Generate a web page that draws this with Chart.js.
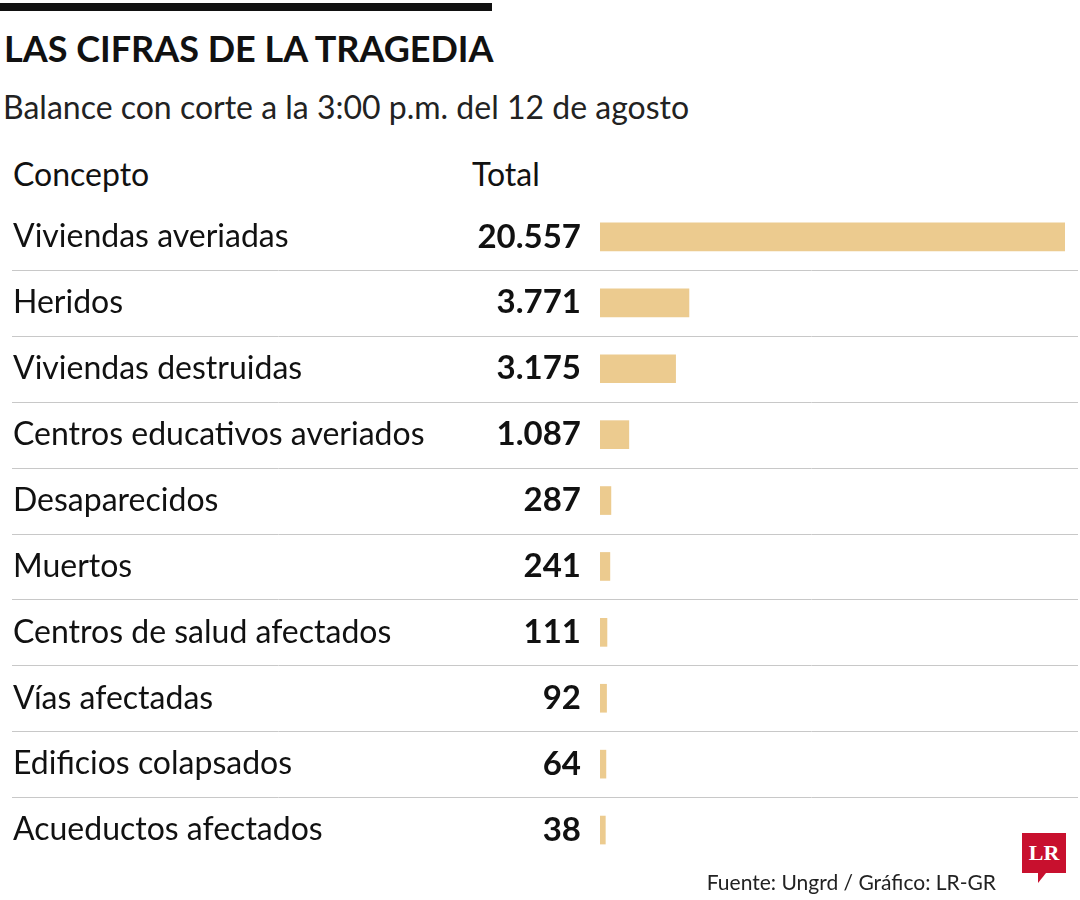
<!DOCTYPE html>
<html><head><meta charset="utf-8">
<script src="https://cdn.jsdelivr.net/npm/chart.js@4"></script>
<style>
body{margin:0;width:1080px;height:900px;background:#fff;font-family:Lato,sans-serif;color:#111;position:relative;overflow:hidden}
#bar{position:absolute;left:0;top:3px;width:492px;height:8px;background:#111}
#t{position:absolute;left:4px;top:26px;font-weight:bold;font-size:36px}
#s{position:absolute;left:3px;top:87px;font-size:32px;color:#222}
.h{position:absolute;top:154px;font-size:32px}
#src{position:absolute;right:84px;top:869px;font-size:21px;color:#222}
#logo{position:absolute;left:1022px;top:833px;width:44px;height:40px;background:#c8102e;color:#fff;font:bold 22px "Liberation Serif",serif;text-align:center;line-height:40px}
#logo:after{content:"";position:absolute;left:16px;top:40px;border-left:8px solid #c8102e;border-bottom:10px solid transparent}
canvas{position:absolute;left:0;top:0}
</style></head><body>
<div id="bar"></div>
<div id="t">LAS CIFRAS DE LA TRAGEDIA</div>
<div id="s">Balance con corte a la 3:00 p.m. del 12 de agosto</div>
<div class="h" style="left:13px">Concepto</div>
<div class="h" style="left:472px">Total</div>
<div style="position:absolute;left:0;top:0;width:1080px;height:900px"><canvas id="c"></canvas></div>
<div id="src">Fuente: Ungrd / Gráfico: LR-GR</div>
<div id="logo">LR</div>
<script>
const categories=["Viviendas averiadas","Heridos","Viviendas destruidas","Centros educativos averiados","Desaparecidos","Muertos","Centros de salud afectados","Vías afectadas","Edificios colapsados","Acueductos afectados"];
const values=[20557,3771,3175,1087,287,241,111,92,64,38];
const fmt=v=>v.toLocaleString('de-DE');
const textPlugin={id:'txt',afterDatasetsDraw(ch){
 const c=ch.ctx,y=ch.scales.y;c.save();
 categories.forEach((n,i)=>{
  const py=y.getPixelForValue(i);
  c.fillStyle='#111';c.textBaseline='middle';
  c.font='32px Lato';c.textAlign='left';c.fillText(n,13,py);
  c.font='bold 33px Lato';c.textAlign='right';c.fillText(fmt(values[i]),581,py);
  if(i<categories.length-1){const ly=(py+y.getPixelForValue(i+1))/2;
   c.strokeStyle='#c8c8c8';c.lineWidth=1;c.beginPath();c.moveTo(12,Math.round(ly)+0.5);c.lineTo(1078,Math.round(ly)+0.5);c.stroke();}
 });c.restore();}};
new Chart(document.getElementById('c'),{type:'bar',
 data:{labels:categories,datasets:[{data:values,base:-200,backgroundColor:'#eccb8f',barThickness:28}]},
 options:{indexAxis:'y',responsive:true,maintainAspectRatio:false,animation:false,
  layout:{padding:{left:600,right:15,top:204,bottom:37}},
  plugins:{legend:{display:false},tooltip:{enabled:false}},
  scales:{x:{display:false,min:-200,max:20557},y:{display:false}}},
 plugins:[textPlugin]});
</script></body></html>
